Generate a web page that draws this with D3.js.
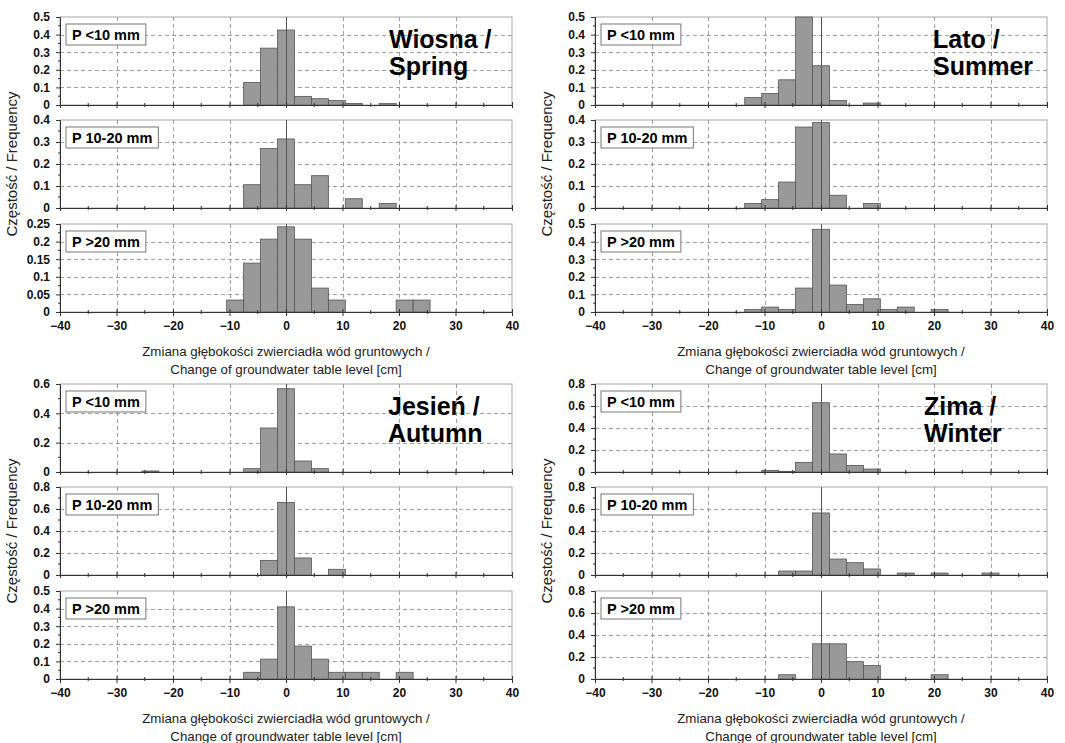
<!DOCTYPE html>
<html lang="pl">
<head>
<meta charset="utf-8">
<style>
  body { margin: 0; background: #fff; }
  svg { font-family: "Liberation Sans", Arial, sans-serif; }
  .grid { stroke: #8a8a8a; stroke-width: 0.8; stroke-dasharray: 4,3; }
  .bar { fill: #999; stroke: #555; stroke-width: 0.8; }
  .tick-lab { font-size: 12px; font-weight: bold; fill: #111; }
</style>
</head>
<body>
<svg width="1065" height="743"></svg>
<script src="https://cdn.jsdelivr.net/npm/d3@7"></script>
<script>
// bins are 3 cm wide, given by centre [cm] and frequency
var springLow  = [[-6,0.128],[-3,0.323],[0,0.426],[3,0.049],[6,0.036],[9,0.025],[12,0.009],[18,0.008]];
var springMid  = [[-6,0.106],[-3,0.271],[0,0.314],[3,0.106],[6,0.147],[12,0.042],[18,0.021]];
var springHigh = [[-9,0.034],[-6,0.139],[-3,0.207],[0,0.242],[3,0.207],[6,0.068],[9,0.034],[21,0.034],[24,0.034]];

var summerLow  = [[-12,0.042],[-9,0.066],[-6,0.143],[-3,0.5],[0,0.223],[3,0.026],[9,0.011]];
var summerMid  = [[-12,0.021],[-9,0.038],[-6,0.118],[-3,0.368],[0,0.388],[3,0.058],[9,0.021]];
var summerHigh = [[-12,0.015],[-9,0.028],[-6,0.015],[-3,0.136],[0,0.47],[3,0.153],[6,0.043],[9,0.075],[12,0.015],[15,0.028],[21,0.015]];

var autumnLow  = [[-24,0.007],[-6,0.023],[-3,0.30],[0,0.568],[3,0.075],[6,0.023]];
var autumnMid  = [[-3,0.133],[0,0.66],[3,0.155],[9,0.052]];
var autumnHigh = [[-6,0.038],[-3,0.113],[0,0.41],[3,0.187],[6,0.113],[9,0.038],[12,0.038],[15,0.038],[21,0.038]];

var winterLow  = [[-9,0.015],[-6,0.006],[-3,0.088],[0,0.63],[3,0.164],[6,0.06],[9,0.027]];
var winterMid  = [[-6,0.036],[-3,0.036],[0,0.564],[3,0.145],[6,0.112],[9,0.055],[15,0.018],[21,0.018],[30,0.018]];
var winterHigh = [[-6,0.039],[0,0.32],[3,0.32],[6,0.158],[9,0.122],[21,0.039]];

var classLabels = ["P <10 mm", "P 10-20 mm", "P >20 mm"];
var xTicks = [-40,-30,-20,-10,0,10,20,30,40];

var seasons = [
  {title: ["Wiosna /","Spring"], series: [springLow, springMid, springHigh], ymax: [0.5,0.4,0.25], ystep: [0.1,0.1,0.05], ox: 0, oy: 0, tx: 389},
  {title: ["Lato /","Summer"], series: [summerLow, summerMid, summerHigh], ymax: [0.5,0.4,0.5], ystep: [0.1,0.1,0.1], ox: 535, oy: 0, tx: 398},
  {title: ["Jesień /","Autumn"], series: [autumnLow, autumnMid, autumnHigh], ymax: [0.6,0.8,0.5], ystep: [0.2,0.2,0.1], ox: 0, oy: 367, tx: 388},
  {title: ["Zima /","Winter"], series: [winterLow, winterMid, winterHigh], ymax: [0.8,0.8,0.8], ystep: [0.2,0.2,0.2], ox: 535, oy: 367, tx: 389}
];

var svg = d3.select("svg");
var subTops = [17, 120, 224], subH = 88;
var plotL = 60, plotR = 512;

function fmt(v) {
  if (v === 0) return "0";
  return String(+v.toFixed(2));
}

seasons.forEach(function (s) {
  var g = svg.append("g").attr("transform", "translate(" + s.ox + "," + s.oy + ")");
  var x = d3.scaleLinear().domain([-40, 40]).range([plotL, plotR]);

  s.series.forEach(function (data, k) {
    var top = subTops[k], bot = top + subH;
    var y = d3.scaleLinear().domain([0, s.ymax[k]]).range([bot, top]);
    var step = s.ystep[k];
    var majors = d3.range(0, s.ymax[k] + step / 2, step);
    var minors = d3.range(step / 2, s.ymax[k], step);
    var sg = g.append("g");

    // frame
    sg.append("rect").attr("x", plotL).attr("y", top).attr("width", plotR - plotL).attr("height", subH)
      .attr("fill", "#fff").attr("stroke", "#a8a8a8").attr("stroke-width", 1);

    // horizontal dashed grid
    sg.selectAll(".hg").data(majors.filter(function (v) { return v > 0 && v < s.ymax[k] - 1e-9; }))
      .enter().append("line").attr("class", "grid")
      .attr("x1", plotL).attr("x2", plotR)
      .attr("y1", function (d) { return Math.round(y(d)) + 0.5; })
      .attr("y2", function (d) { return Math.round(y(d)) + 0.5; });

    // vertical dashed grid
    sg.selectAll(".vg").data(xTicks.filter(function (v) { return v !== 0 && Math.abs(v) < 40; }))
      .enter().append("line").attr("class", "grid")
      .attr("y1", top).attr("y2", bot)
      .attr("x1", function (d) { return Math.round(x(d)) + 0.5; })
      .attr("x2", function (d) { return Math.round(x(d)) + 0.5; });

    // bars
    sg.selectAll(".bar").data(data).enter().append("rect").attr("class", "bar")
      .attr("x", function (d) { return x(d[0] - 1.5); })
      .attr("width", function (d) { return x(d[0] + 1.5) - x(d[0] - 1.5); })
      .attr("y", function (d) { return y(Math.min(d[1], s.ymax[k])); })
      .attr("height", function (d) { return bot - y(Math.min(d[1], s.ymax[k])); });

    // zero line
    sg.append("line").attr("x1", Math.round(x(0)) + 0.5).attr("x2", Math.round(x(0)) + 0.5)
      .attr("y1", top).attr("y2", bot).attr("stroke", "#555").attr("stroke-width", 1);

    // y axis
    var ya = sg.append("g").attr("transform", "translate(" + plotL + ",0)")
      .call(d3.axisLeft(y).tickValues(majors).tickSize(4).tickPadding(6).tickFormat(fmt));
    ya.select(".domain").attr("stroke", "#333");
    ya.selectAll("text").attr("class", "tick-lab");
    ya.selectAll("line").attr("stroke", "#333");
    sg.selectAll(".ymin").data(minors).enter().append("line")
      .attr("x1", plotL - 2).attr("x2", plotL)
      .attr("y1", function (d) { return y(d); }).attr("y2", function (d) { return y(d); })
      .attr("stroke", "#333");

    // x axis
    var xa = sg.append("g").attr("transform", "translate(0," + bot + ")")
      .call(d3.axisBottom(x).tickValues(xTicks).tickSize(k === 2 ? 4 : 3).tickPadding(5)
        .tickFormat(k === 2 ? d3.format("d") : ""));
    xa.select(".domain").attr("stroke", "#333");
    xa.selectAll("line").attr("stroke", "#333").attr("y1", -3);
    xa.selectAll("text").attr("class", "tick-lab");
    sg.selectAll(".xmin").data(d3.range(-35, 40, 10)).enter().append("line")
      .attr("x1", function (d) { return x(d); }).attr("x2", function (d) { return x(d); })
      .attr("y1", bot - 2).attr("y2", bot + 2).attr("stroke", "#333");

    // class label box
    var lg = sg.append("g");
    var lt = lg.append("text").attr("x", plotL + 12).attr("y", top + 23)
      .style("font-size", "14.5px").style("font-weight", "bold").text(classLabels[k]);
    var bb = lt.node().getBBox();
    lg.insert("rect", "text").attr("x", bb.x - 6).attr("y", top + 7)
      .attr("width", bb.width + 12).attr("height", 21)
      .attr("fill", "#fff").attr("stroke", "#777").attr("stroke-width", 1);
  });

  // season title
  g.selectAll(".stitle").data(s.title).enter().append("text")
    .attr("x", s.tx)
    .attr("y", function (d, i) { return subTops[0] + 31 + i * 27; })
    .style("font-size", "25px").style("font-weight", "bold").attr("fill", "#000")
    .text(function (d) { return d; });

  // y axis title
  var midY = subTops[1] + subH / 2;
  g.append("text").attr("transform", "translate(17," + midY + ") rotate(-90)")
    .attr("text-anchor", "middle").style("font-size", "15px").attr("fill", "#222")
    .text("Częstość / Frequency");

  // x axis title
  var base = subTops[2] + subH;
  g.append("text").attr("x", (plotL + plotR) / 2).attr("y", base + 44)
    .attr("text-anchor", "middle").style("font-size", "13.3px").attr("fill", "#222")
    .text("Zmiana głębokości zwierciadła wód gruntowych /");
  g.append("text").attr("x", (plotL + plotR) / 2).attr("y", base + 62)
    .attr("text-anchor", "middle").style("font-size", "13.3px").attr("fill", "#222")
    .text("Change of groundwater table level [cm]");
});
</script>
</body>
</html>
